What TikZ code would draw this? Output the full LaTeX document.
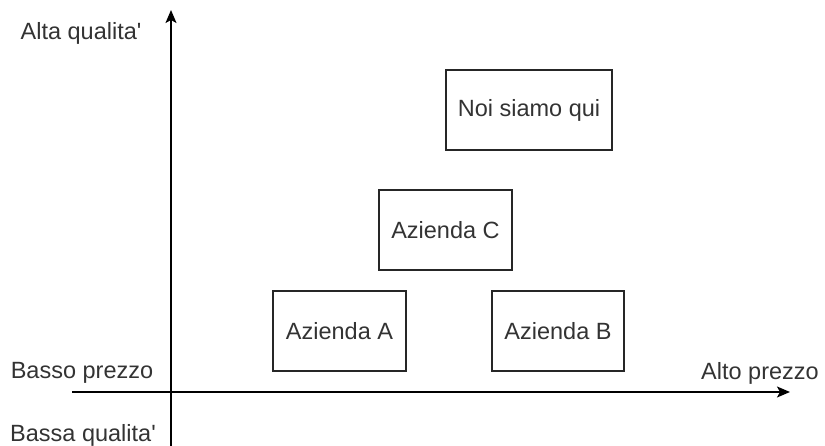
\documentclass[tikz,border=0pt]{standalone}
\usepackage{fontspec}
\newfontfamily\libsans{Liberation Sans}
\usetikzlibrary{arrows.meta}
\begin{document}
\begin{tikzpicture}[x=1pt,y=-1pt,
  every node/.style={font=\libsans\fontsize{23.5}{28}\selectfont, text=black!80, inner sep=0pt},
  firm/.style={draw=black!85, line width=1.6pt, minimum width=#1, minimum height=80pt},
  firm/.default=133pt,
  axis/.style={draw=black, line width=1.6pt, -{Stealth[length=13pt,width=11pt,inset=3pt]}}]
\useasboundingbox (0,0) rectangle (825,446);
\coordinate (xs) at (72,392);
\coordinate (xe) at (790,392);
\coordinate (ys) at (171,446);
\coordinate (ye) at (171,10);
\draw[axis] (xs) -- (xe);
\draw[axis] (ys) -- (ye);
\node[firm=166pt] (noi) at (529,110) {Noi siamo qui};
\node[firm] (c) at (445.5,230) {Azienda C};
\node[firm] (a) at (339.5,331) {Azienda A};
\node[firm=132pt] (b) at (558,331) {Azienda B};
\node (alta) at (81,33) {Alta qualita'};
\node (basso) at (82,373) {Basso prezzo};
\node (bassa) at (83,435) {Bassa qualita'};
\node (alto) at (760,373) {Alto prezzo};
\end{tikzpicture}
\end{document}
